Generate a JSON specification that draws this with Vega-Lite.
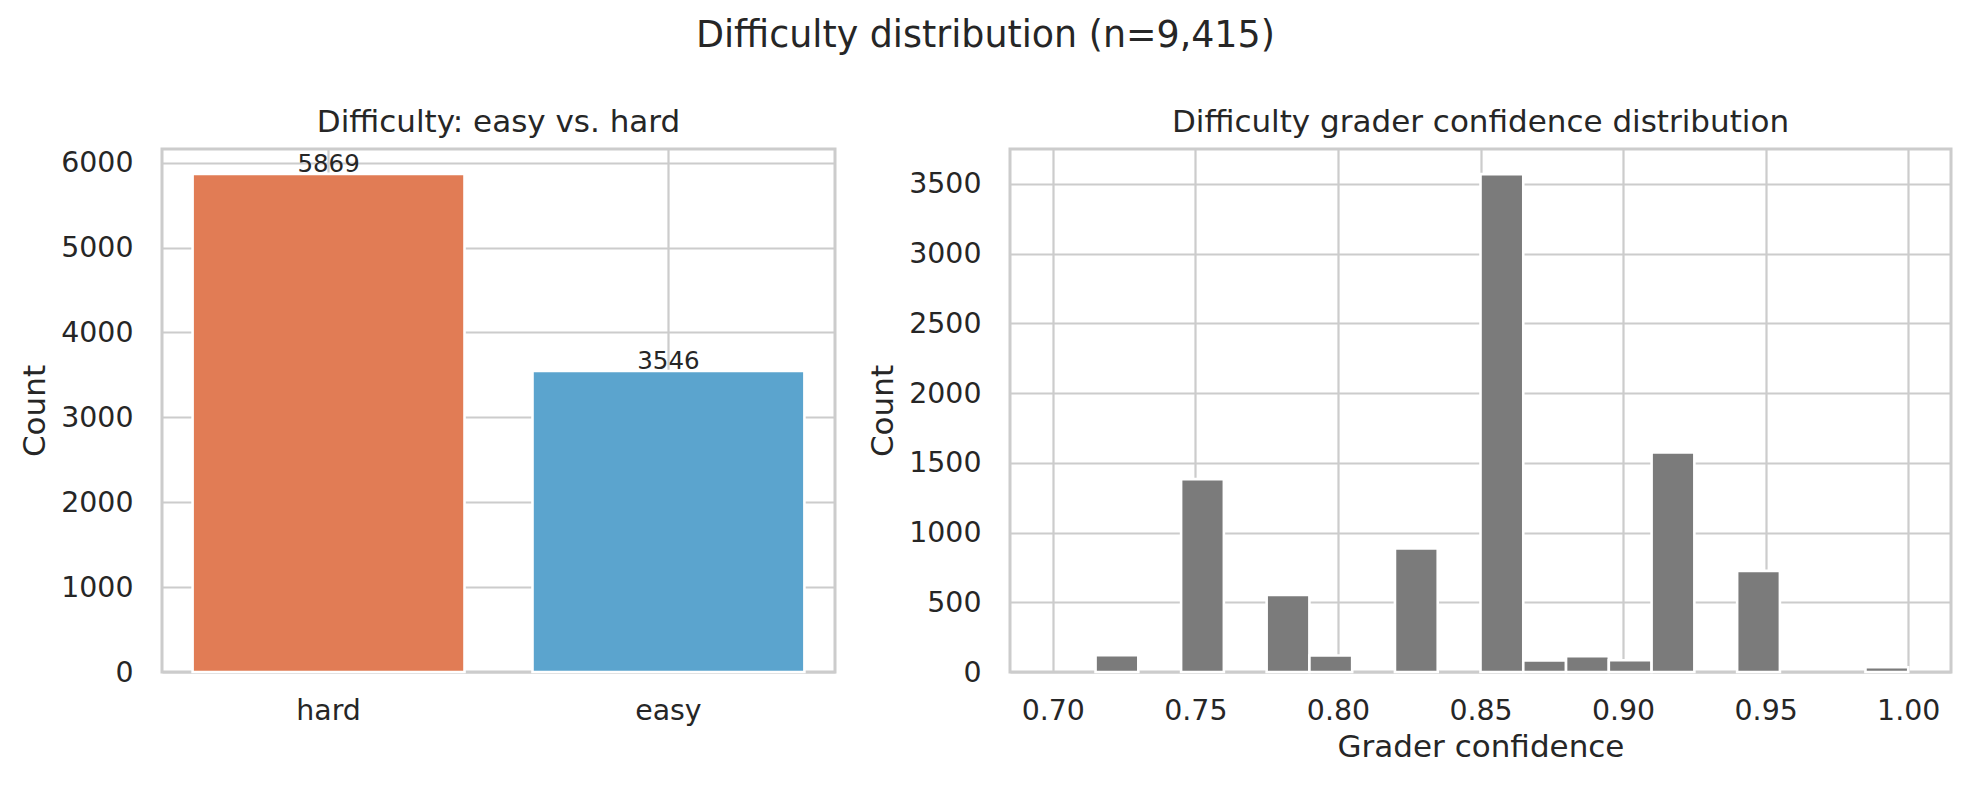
{
  "$schema": "https://vega.github.io/schema/vega-lite/v6.json",
  "background": "white",
  "padding": {"left": 18, "top": 17, "right": 21, "bottom": 23},
  "title": {
    "text": "Difficulty distribution (n=9,415)",
    "fontSize": 36.4,
    "anchor": "middle",
    "baseline": "bottom",
    "offset": 14
  },
  "spacing": 175,
  "bounds": "flush",
  "hconcat": [
    {
      "width": 673,
      "height": 523,
      "title": {"text": "Difficulty: easy vs. hard", "frame": "group", "baseline": "bottom", "offset": -21},
      "data": {
        "values": [
          {"difficulty": "hard", "count": 5869},
          {"difficulty": "easy", "count": 3546}
        ]
      },
      "encoding": {
        "x": {
          "field": "difficulty",
          "type": "nominal",
          "sort": ["hard", "easy"],
          "scale": {"paddingInner": 0.2, "paddingOuter": 0.09},
          "axis": {"title": null, "labelAngle": 0, "grid": true, "bandPosition": 0.5}
        },
        "y": {
          "field": "count",
          "type": "quantitative",
          "scale": {"domain": [0, 6162], "nice": false},
          "axis": {"title": "Count", "format": "d", "values": [0, 1000, 2000, 3000, 4000, 5000, 6000]}
        }
      },
      "layer": [
        {
          "mark": {"type": "bar", "stroke": "white", "strokeWidth": 2.6},
          "encoding": {
            "color": {
              "field": "difficulty",
              "type": "nominal",
              "scale": {"domain": ["hard", "easy"], "range": ["#e17c55", "#5ba4ce"]},
              "legend": null
            }
          }
        },
        {
          "mark": {"type": "text", "baseline": "alphabetic", "dy": -2, "fontSize": 24.5, "color": "#262626"},
          "encoding": {"text": {"field": "count", "type": "quantitative", "format": "d"}}
        }
      ]
    },
    {
      "width": 941,
      "height": 523,
      "title": {"text": "Difficulty grader confidence distribution", "frame": "group", "baseline": "bottom", "offset": -21},
      "data": {
        "values": [
          {"bin_start": 0.715, "bin_end": 0.730, "count": 120},
          {"bin_start": 0.745, "bin_end": 0.760, "count": 1383},
          {"bin_start": 0.775, "bin_end": 0.790, "count": 553},
          {"bin_start": 0.790, "bin_end": 0.805, "count": 118},
          {"bin_start": 0.820, "bin_end": 0.835, "count": 886},
          {"bin_start": 0.850, "bin_end": 0.865, "count": 3570},
          {"bin_start": 0.865, "bin_end": 0.880, "count": 82},
          {"bin_start": 0.880, "bin_end": 0.895, "count": 113},
          {"bin_start": 0.895, "bin_end": 0.910, "count": 84},
          {"bin_start": 0.910, "bin_end": 0.925, "count": 1575},
          {"bin_start": 0.940, "bin_end": 0.955, "count": 725},
          {"bin_start": 0.985, "bin_end": 1.000, "count": 34}
        ]
      },
      "mark": {"type": "bar", "fill": "#7b7b7b", "stroke": "white", "strokeWidth": 2.6},
      "encoding": {
        "x": {
          "field": "bin_start",
          "type": "quantitative",
          "scale": {"domain": [0.685, 1.015], "nice": false, "zero": false},
          "axis": {
            "title": "Grader confidence",
            "values": [0.7, 0.75, 0.8, 0.85, 0.9, 0.95, 1.0],
            "format": ".2f",
            "labelFlush": false
          }
        },
        "x2": {"field": "bin_end"},
        "y": {
          "field": "count",
          "type": "quantitative",
          "scale": {"domain": [0, 3750], "nice": false},
          "axis": {"title": "Count", "format": "d", "values": [0, 500, 1000, 1500, 2000, 2500, 3000, 3500]}
        },
        "y2": {"datum": 0}
      }
    }
  ],
  "config": {
    "font": "DejaVu Sans",
    "view": {"stroke": "#cccccc", "strokeWidth": 3},
    "axis": {
      "grid": true,
      "gridColor": "#cccccc",
      "gridWidth": 2.2,
      "domain": false,
      "ticks": false,
      "tickSize": 0,
      "labelFont": "DejaVu Sans",
      "labelFontSize": 28.4,
      "labelColor": "#262626",
      "labelPadding": 25,
      "titleFont": "DejaVu Sans",
      "titleFontSize": 31,
      "titleFontWeight": "normal",
      "titleColor": "#262626",
      "titlePadding": 8
    },
    "axisY": {"labelPadding": 29, "titlePadding": 9},
    "title": {"font": "DejaVu Sans", "fontSize": 31, "fontWeight": "normal", "color": "#262626"}
  }
}
